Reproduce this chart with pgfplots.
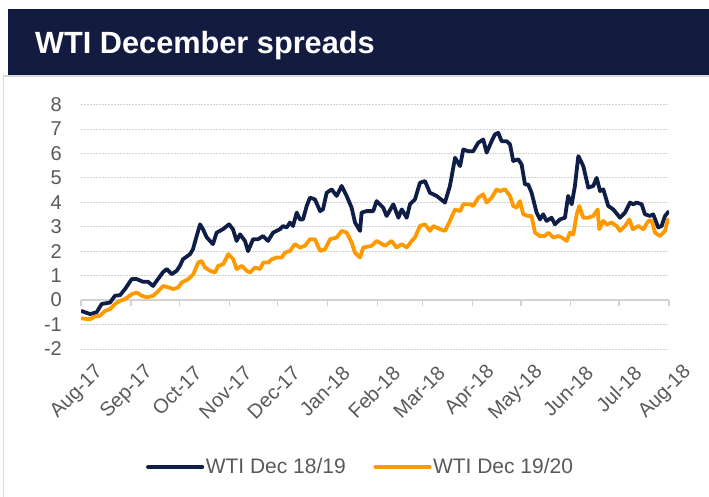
\documentclass[border=0pt]{standalone}
\usepackage{fontspec}
\setmainfont{Liberation Sans}
\usepackage{pgfplots}
\usepackage{pgfplotstable}
\pgfplotsset{compat=1.18}
\definecolor{banner}{RGB}{19,28,64}
\definecolor{navyline}{RGB}{14,30,70}
\definecolor{orangeline}{RGB}{255,153,0}
\definecolor{textgray}{RGB}{89,89,89}
\definecolor{gridgray}{RGB}{210,210,210}
\definecolor{axisgray}{RGB}{210,210,210}
\definecolor{boxgray}{RGB}{217,217,217}

% days since 1 Aug 2017, spread
\pgfplotstableread{
d v
0 -0.44
5.6 -0.57
9.7 -0.50
12.8 -0.16
18.0 -0.10
21.1 0.18
24.2 0.20
27.3 0.45
31.5 0.86
34.6 0.86
38.5 0.75
41.6 0.75
44.7 0.58
47.0 0.79
50.9 1.14
53.2 1.27
56.3 1.06
59.4 1.20
61.4 1.40
63.3 1.67
67.7 1.88
69.5 2.08
71.8 2.62
73.9 3.10
75.7 2.90
78.0 2.57
81.9 2.29
84.2 2.76
88.1 2.90
91.9 3.10
94.3 2.90
96.6 2.42
98.7 2.69
101.8 2.42
103.7 2.00
106.8 2.49
109.9 2.49
113.0 2.62
116.1 2.42
119.2 2.76
123.5 2.90
125.4 3.03
127.7 2.97
129.7 3.17
131.6 3.03
133.9 3.58
135.9 3.30
137.8 3.30
140.1 3.85
142.1 4.19
145.2 4.12
148.4 3.64
150.2 3.71
152.5 4.39
155.6 4.53
158.7 4.26
161.8 4.67
164.9 4.26
168.0 3.78
170.1 3.17
173.2 2.83
174.2 3.58
177.4 3.64
181.4 3.64
183.5 4.05
187.6 3.78
189.7 3.44
193.9 3.92
197.0 3.37
199.1 3.71
202.2 3.37
204.2 3.92
207.3 4.12
210.4 4.80
213.5 4.87
216.6 4.39
220.8 4.26
225.9 3.99
229.0 4.67
232.2 5.82
235.3 5.48
237.3 6.16
240.4 6.09
243.5 6.09
246.6 6.44
249.7 6.57
251.8 6.03
254.9 6.50
257.0 6.78
259.0 6.84
261.1 6.50
264.2 6.50
266.3 6.37
268.3 5.69
271.4 5.76
273.5 5.55
275.6 4.73
277.6 4.73
279.7 4.39
282.8 3.58
284.9 3.30
286.9 3.51
289.0 3.24
292.1 3.37
294.2 3.10
297.3 3.30
300.4 3.37
302.4 4.26
304.6 3.92
306.6 4.67
308.7 5.89
311.8 5.48
314.9 4.60
318.0 4.67
320.1 5.00
322.2 4.46
324.2 4.53
327.3 3.85
330.4 3.71
334.6 3.37
337.7 3.58
340.8 3.99
342.8 3.92
344.9 3.99
348.0 3.92
350.1 3.51
353.2 3.44
355.2 3.51
358.3 2.97
360.4 3.03
362.5 3.44
365.0 3.64
}\tableA

\pgfplotstableread{
d v
0 -0.75
5.6 -0.78
8.7 -0.67
11.8 -0.64
14.9 -0.44
18.0 -0.37
21.1 -0.16
24.2 -0.03
27.3 0.04
31.5 0.24
34.6 0.31
37.7 0.18
40.8 0.11
44.9 0.18
47.0 0.31
51.1 0.58
54.2 0.52
57.3 0.45
60.4 0.52
62.5 0.72
66.6 0.86
69.7 1.06
72.8 1.54
74.9 1.60
77.0 1.33
80.1 1.20
83.2 1.13
85.2 1.40
88.3 1.47
91.4 1.88
94.5 1.67
96.6 1.27
99.8 1.40
102.9 1.20
104.9 1.13
108.0 1.33
111.1 1.27
113.2 1.54
116.3 1.54
118.4 1.67
121.5 1.74
124.6 1.74
126.6 1.94
129.7 2.01
132.8 2.29
135.9 2.15
139.0 2.22
142.1 2.49
145.2 2.49
148.4 2.01
151.5 2.08
154.6 2.49
158.7 2.56
161.8 2.83
164.9 2.76
168.0 2.36
170.1 1.94
173.2 1.74
175.2 2.15
180.4 2.22
183.5 2.42
188.7 2.22
192.8 2.42
195.9 2.15
199.1 2.29
202.2 2.15
205.3 2.42
207.3 2.56
210.4 3.03
213.5 3.10
216.6 2.83
218.7 3.03
222.9 2.90
225.9 2.83
228.0 3.10
232.2 3.71
235.3 3.64
237.3 3.92
241.5 3.92
243.5 3.85
246.6 4.19
249.7 4.33
251.8 3.99
254.9 4.19
258.0 4.53
260.1 4.46
263.2 4.53
266.3 4.26
268.3 3.85
270.4 3.78
272.5 4.05
274.5 3.51
277.6 3.44
279.7 3.44
281.8 2.76
284.9 2.62
288.0 2.62
290.1 2.76
293.2 2.56
296.3 2.62
298.4 2.56
301.5 2.42
303.5 2.76
305.6 2.69
307.7 3.51
309.3 3.85
311.8 3.37
314.9 3.37
318.0 3.44
320.7 3.71
321.7 2.90
324.2 3.24
326.3 3.10
329.4 3.17
332.5 3.03
334.6 2.83
337.7 3.03
340.4 3.30
342.5 2.90
346.0 3.03
349.1 2.90
352.2 3.24
354.3 3.24
356.3 2.76
359.4 2.62
362.5 2.83
364.0 3.24
365.0 3.33
}\tableB

\begin{document}
\begin{tikzpicture}
\path[use as bounding box] (0,0) rectangle (709pt,496pt);
% outer frame
\draw[boxgray, line width=1.2pt] (3.5pt,-2pt) -- (3.5pt,420pt) -- (712pt,420pt);
% banner
\fill[banner] (8pt,421pt) rectangle (712pt,487pt);
\node[anchor=base west, inner sep=0pt, text=white, font=\fontsize{30.7}{36}\selectfont\bfseries] at (35pt,442pt) {WTI December spreads};

% zero line with month ticks
\begin{axis}[
  at={(81pt,147pt)}, anchor=south west,
  scale only axis, width=588pt, height=244.5pt,
  xmin=0, xmax=365, ymin=-2, ymax=8,
  axis x line=middle, axis y line=none,
  x axis line style={-, draw=axisgray, line width=1.8pt},
  xtick={0,31,61,92,122,153,184,212,243,273,304,334,365},
  xticklabels={},
  ytick=\empty,
  tick align=outside,
  major tick length=6pt,
  every tick/.style={axisgray, line width=1.4pt},
]
\end{axis}

\begin{axis}[
  at={(81pt,147pt)}, anchor=south west,
  scale only axis, width=588pt, height=244.5pt,
  xmin=0, xmax=365, ymin=-2, ymax=8,
  axis line style={draw=none},
  major tick length=0pt,
  xtick={0,31,61,92,122,153,184,212,243,273,304,334,365},
  xticklabels={Aug-17,Sep-17,Oct-17,Nov-17,Dec-17,Jan-18,Feb-18,Mar-18,Apr-18,May-18,Jun-18,Jul-18,Aug-18},
  xticklabel style={rotate=45, anchor=east, inner sep=0pt, yshift=-28pt, xshift=-1pt, font=\fontsize{20}{24}\selectfont, text=textgray},
  ytick={-2,-1,1,2,3,4,5,6,7,8},
  yticklabels={-2,-1,1,2,3,4,5,6,7,8},
  extra y ticks={0},
  extra y tick labels={0},
  extra y tick style={grid=none},
  yticklabel style={anchor=east, inner sep=0pt, xshift=-19pt, font=\fontsize{20}{24}\selectfont, text=textgray},
  ymajorgrids,
  major grid style={gridgray, line width=0.9pt, dash pattern=on 1.5pt off 1.5pt},
  legend style={at={(0.475,-0.483)}, anchor=center, draw=none, fill=none,
    font=\fontsize{21}{25}\selectfont, text=textgray,
    /tikz/every even column/.append style={column sep=26pt},
    nodes={inner sep=1.5pt}},
  legend columns=2,
  legend image code/.code={\draw[#1, line width=4.2pt, line cap=round] (0pt,0pt) -- (54pt,0pt);},
]
\addplot[navyline, line width=3.8pt, line join=round] table[x=d, y=v] {\tableA};
\addlegendentry{WTI Dec 18/19}
\addplot[orangeline, line width=3.8pt, line join=round] table[x=d, y=v] {\tableB};
\addlegendentry{WTI Dec 19/20}
\end{axis}
\end{tikzpicture}
\end{document}
